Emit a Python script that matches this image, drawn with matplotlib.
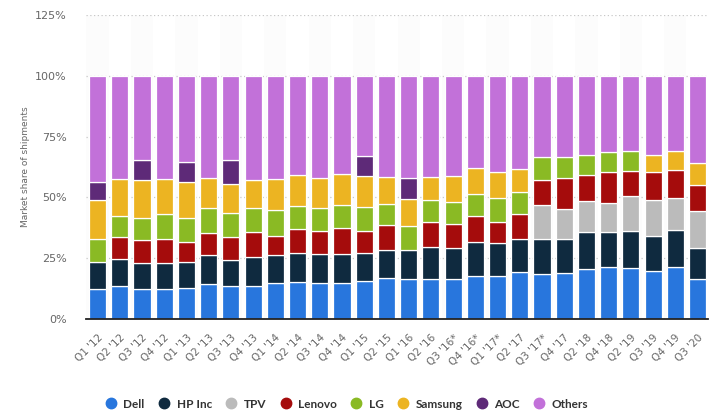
import matplotlib
matplotlib.use("Agg")
import matplotlib.pyplot as plt
from matplotlib.lines import Line2D
import numpy as np

quarters = ["Q1 '12", "Q2 '12", "Q3 '12", "Q4 '12", "Q1 '13", "Q2 '13", "Q3 '13", "Q4 '13",
            "Q1 '14", "Q2 '14", "Q3 '14", "Q4 '14", "Q1 '15", "Q2 '15", "Q1 '16", "Q2 '16",
            "Q3 '16*", "Q4 '16*", "Q1 '17*", "Q2 '17", "Q3 '17*", "Q4 '17", "Q2 '18", "Q4 '18",
            "Q2 '19", "Q3 '19", "Q4 '19", "Q3 '20"]

dell    = [12.5, 13.7, 12.5, 12.5, 12.9, 14.5, 13.7, 13.7, 14.9, 15.3, 14.9, 14.9, 15.8, 17.0,
           16.6, 16.6, 16.6, 17.8, 17.8, 19.5, 18.6, 19.0, 20.7, 21.5, 21.1, 19.9, 21.5, 16.6]
hp_inc  = [11.1, 11.1, 10.7, 10.7, 10.7, 11.9, 10.7, 11.9, 11.5, 12.0, 11.9, 11.9, 11.5, 11.5,
           11.9, 13.1, 12.7, 14.0, 13.6, 13.5, 14.4, 14.0, 15.2, 14.4, 15.2, 14.3, 15.2, 12.7]
tpv     = [0, 0, 0, 0, 0, 0, 0, 0, 0, 0, 0, 0, 0, 0,
           0, 0, 0, 0, 0, 0, 14.0, 12.3, 12.7, 11.9, 14.4, 14.8, 13.2, 15.2]
lenovo  = [0, 9.0, 9.4, 9.8, 8.2, 9.1, 9.4, 10.3, 7.8, 9.8, 9.5, 10.7, 9.0, 10.3,
           0, 10.3, 9.9, 10.7, 8.6, 10.3, 10.3, 12.8, 10.7, 12.7, 10.3, 11.5, 11.5, 10.7]
lg      = [9.5, 8.4, 9.0, 10.0, 9.8, 10.3, 9.9, 9.9, 10.7, 9.5, 9.5, 9.5, 9.9, 8.6,
           9.9, 9.0, 9.0, 9.0, 9.9, 9.0, 9.4, 8.6, 8.2, 8.3, 8.2, 0, 0, 0]
samsung = [16.0, 15.5, 15.7, 14.7, 14.8, 12.3, 11.9, 11.5, 12.8, 12.7, 12.3, 12.7, 12.7, 11.1,
           11.1, 9.5, 10.7, 10.7, 10.6, 9.5, 0, 0, 0, 0, 0, 7.0, 7.8, 9.0]
aoc     = [7.4, 0, 8.2, 0, 8.3, 0, 9.6, 0, 0, 0, 0, 0, 8.2, 0,
           8.6, 0, 0, 0, 0, 0, 0, 0, 0, 0, 0, 0, 0, 0]
others  = [43.6, 42.3, 34.5, 42.3, 35.3, 41.9, 34.8, 42.7, 42.3, 40.7, 41.9, 40.3, 32.9, 41.5,
           41.9, 41.5, 41.1, 37.8, 39.5, 38.2, 33.3, 33.3, 32.5, 31.2, 30.8, 32.5, 30.8, 35.8]

series_names = ["Dell", "HP Inc", "TPV", "Lenovo", "LG", "Samsung", "AOC", "Others"]
series_vals = [dell, hp_inc, tpv, lenovo, lg, samsung, aoc, others]
colors = ["#2876dd", "#0f2a3f", "#bbbbbb", "#a50c0c", "#8aba24", "#ecb422", "#5e2a78", "#c271d9"]

yticks = [0, 25, 50, 75, 100, 125]
ytick_labels = ["0%", "25%", "50%", "75%", "100%", "125%"]

fig = plt.figure(figsize=(7.15, 4.17), dpi=100)
ax = fig.add_axes([86/715, 1-319/417, (708-86)/715, (319-15)/417])

x = np.arange(len(quarters))
# faint alternating column background
for i in x:
    if i % 2 == 0:
        ax.axvspan(i - 0.5, i + 0.5, color="#fcfcfc", zorder=0, lw=0)

bottom = np.zeros(len(quarters))
for name, vals, c in zip(series_names, series_vals, colors):
    v = np.array(vals, dtype=float)
    mask = v > 0
    ax.bar(x[mask], v[mask], bottom=bottom[mask], width=0.77, color=c,
           edgecolor="white", linewidth=0.9, zorder=3)
    bottom += v

ax.set_xlim(-0.52, len(quarters) - 0.53)
ax.set_ylim(0, 125)
ax.set_yticks(yticks)
ax.set_yticklabels(ytick_labels)
ax.set_xticks(x)
ax.set_xticklabels(quarters, rotation=45, ha="right", rotation_mode="anchor")

for s in ["top", "right", "left"]:
    ax.spines[s].set_visible(False)
ax.spines["bottom"].set_color("#222222")
ax.spines["bottom"].set_linewidth(1.3)
ax.spines["bottom"].set_zorder(5)

ax.yaxis.grid(True, color="#c8c8c8", linestyle=(0, (1, 2)), linewidth=0.9, zorder=1)
ax.set_axisbelow(True)
ax.tick_params(axis="y", length=0, pad=14, labelsize=8, labelcolor="#666666")
ax.tick_params(axis="x", length=0, pad=10, labelsize=7.5, labelcolor="#666666")

ax.set_ylabel("Market share of shipments", fontsize=6.5, color="#666666")
ax.yaxis.set_label_coords((30 - 86) / 622, 0.5)

handles = [Line2D([0], [0], marker="o", linestyle="none", markersize=7.5,
                  markerfacecolor=c, markeredgecolor=c) for c in colors]
fig.legend(handles, series_names, loc="center", bbox_to_anchor=(345/715, 1-404/417),
           ncol=8, frameon=False, handletextpad=0.25, columnspacing=0.85,
           handlelength=1.6,
           prop={"family": "Lato", "size": 8.5, "weight": "bold"},
           labelcolor="#333333")

fig.savefig("out.png", dpi=100)
